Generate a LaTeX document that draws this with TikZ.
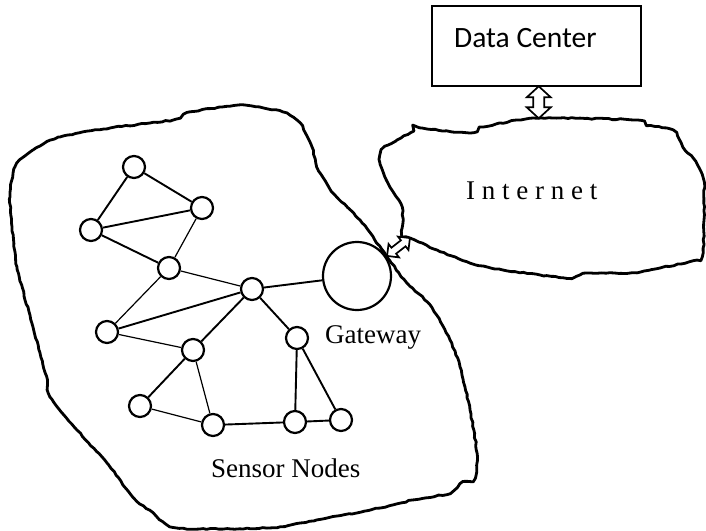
\documentclass[tikz,border=0pt]{standalone}
\usepackage{fontspec}
\setmainfont{Liberation Serif}
\newfontfamily\calib{Carlito}
\usetikzlibrary{calc,decorations.pathmorphing}
\begin{document}
\begin{tikzpicture}[x=1pt,y=-1pt,
  sensor/.style={circle,draw,line width=2.2pt,minimum size=22pt,inner sep=0pt,fill=white},
  gw/.style={circle,draw,line width=2.2pt,minimum size=68pt,inner sep=0pt},
  link/.style={line width=1.9pt},
  thinlink/.style={line width=1.2pt},
  blob/.style={line width=2.8pt,line join=round,
    decoration={random steps,segment length=4pt,amplitude=0.6pt},decorate},
  lbl/.style={font=\fontsize{27}{30}\selectfont,anchor=base west,inner sep=0pt},
  dblarrow/.style={draw,line width=1.7pt,fill=white,line join=miter}]
\pgfmathsetseed{7}
\useasboundingbox[fill=white] (0,0) rectangle (706,530);
% clouds
\draw[blob] plot[smooth cycle,tension=0.45] coordinates {
 (15,167) (33,150) (60,137) (110,128) (173,120) (187,113) (240,105) (283,112)
 (300,123) (312,147) (317,167) (333,193) (360,220) (387,257) (407,283) (430,305)
 (450,340) (460,367) (470,410) (477,453) (475,478) (463,482) (450,493) (413,500)
 (380,508) (300,523) (267,528) (177,528) (153,513) (133,497) (107,463) (77,430)
 (50,397) (47,380) (33,327) (17,267) (12,227) (10,197)};
\draw[blob] plot[smooth cycle,tension=0.45] coordinates {
 (397,140) (410,133) (415,128) (470,133) (480,128) (517,120) (541,118) (560,118)
 (637,120) (647,125) (673,130) (683,147) (693,158) (700,170) (704,183) (704,220)
 (703,253) (697,260) (660,268) (630,273) (587,273) (567,278) (503,270) (470,263)
 (437,250) (410,238) (403,235) (402,207) (390,187) (380,163) (382,150)};
\coordinate (inetTop) at (541,118);
\coordinate (inetCorner) at (410,238);
\coordinate (lanEdge) at (387,256);
% data center
\node[draw,line width=1.3pt,minimum width=209pt,minimum height=80pt,inner sep=0pt] (dc) at (536.5,46) {};
\node[font=\calib\fontsize{29.5}{33}\selectfont,anchor=base west,inner sep=0pt] (dct) at (454,47) {Data Center};
\node[lbl] (inet) at (466,199) {I n t e r n e t};
% sensor nodes
\node[sensor] (n1) at (134,167) {};
\node[sensor] (n2) at (202,208) {};
\node[sensor] (n3) at (91,230) {};
\node[sensor] (n4) at (169,268) {};
\node[sensor] (n5) at (252,289) {};
\node[sensor] (n6) at (107,332) {};
\node[sensor] (n7) at (193,350) {};
\node[sensor] (n8) at (297,338) {};
\node[sensor] (n9) at (140,406) {};
\node[sensor] (n10) at (213,425) {};
\node[sensor] (n11) at (295,422) {};
\node[sensor] (n12) at (341,420) {};
\node[gw] (gw) at (357,276) {};
\node[lbl] (gwl) at (325,343) {Gateway};
\node[lbl] (snl) at (211,477) {Sensor Nodes};
% links
\draw[link] (n1) -- (n2);
\draw[link] (n1) -- (n3);
\draw[link] (n3) -- (n2);
\draw[link] (n3) -- (n4);
\draw[thinlink] (n2) -- (n4);
\draw[thinlink] (n4) -- (n5);
\draw[link] (n5) -- (gw);
\draw[thinlink] (n4) -- (n6);
\draw[link] (n6) -- (n5);
\draw[thinlink] (n6) -- (n7);
\draw[link] (n5) -- (n7);
\draw[link] (n5) -- (n8);
\draw[link] (n7) -- (n9);
\draw[thinlink] (n7) -- (n10);
\draw[thinlink] (n9) -- (n10);
\draw[link] (n10) -- (n11);
\draw[link] (n8) -- (n11);
\draw[link] (n8) -- (n12);
\draw[link] (n11) -- (n12);
% double arrows (L = half length, h = head length, W = head half width, s = shaft half width)
\begin{scope}[shift={($(dc.south)!0.5!(inetTop)$)},rotate=90]
  \draw[dblarrow] (-16,0) -- (-5,12) -- (-5,5.5) -- (5,5.5) -- (5,12) -- (16,0)
    -- (5,-12) -- (5,-5.5) -- (-5,-5.5) -- (-5,-12) -- cycle;
\end{scope}
\begin{scope}[shift={($(lanEdge)!0.5!(inetCorner)$)},rotate=38]
  \draw[dblarrow] (-14.5,0) -- (-6,8.5) -- (-6,3.8) -- (6,3.8) -- (6,8.5) -- (14.5,0)
    -- (6,-8.5) -- (6,-3.8) -- (-6,-3.8) -- (-6,-8.5) -- cycle;
\end{scope}
\end{tikzpicture}
\end{document}
